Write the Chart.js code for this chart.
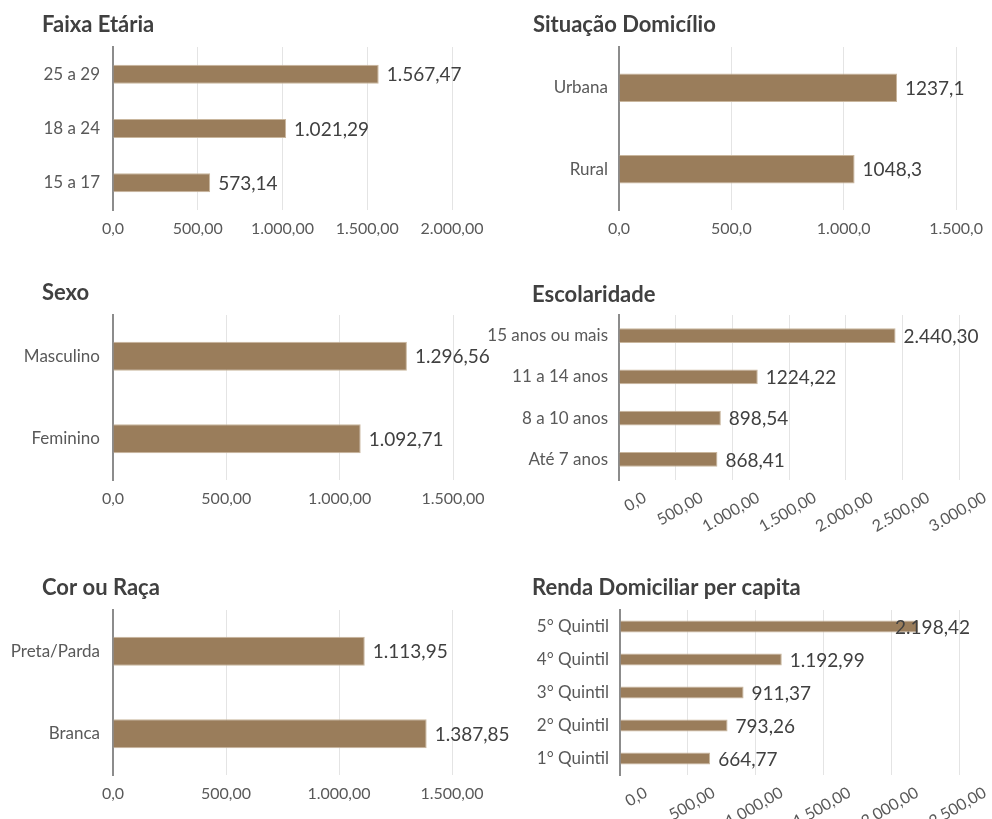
<!DOCTYPE html>
<html lang="pt-BR">
<head>
<meta charset="utf-8">
<title>Rendimento médio por grupo</title>
<script src="https://cdn.jsdelivr.net/npm/chart.js@4.4.1/dist/chart.umd.min.js"></script>
<style>
  html, body { margin: 0; padding: 0; background: #ffffff; }
  #wrap { position: relative; width: 992px; height: 819px; overflow: hidden; }
  #wrap canvas { position: absolute; }
</style>
</head>
<body>
<div id="wrap">
  <canvas id="faixa" width="530" height="260" style="left:0;top:0"></canvas>
  <canvas id="situacao" width="512" height="260" style="left:480px;top:0"></canvas>
  <canvas id="sexo" width="530" height="290" style="left:0;top:270px"></canvas>
  <canvas id="escolaridade" width="512" height="290" style="left:480px;top:270px"></canvas>
  <canvas id="cor" width="530" height="259" style="left:0;top:560px"></canvas>
  <canvas id="renda" width="512" height="259" style="left:480px;top:560px"></canvas>
</div>
<script>
// Faixa Etária
const faixaLabels = ['25 a 29', '18 a 24', '15 a 17'];
const faixaValues = [1567.47, 1021.29, 573.14];
const faixaText = ['1.567,47', '1.021,29', '573,14'];
const faixaTicks = ['0,0', '500,00', '1.000,00', '1.500,00', '2.000,00'];

// Situação Domicílio
const situacaoLabels = ['Urbana', 'Rural'];
const situacaoValues = [1237.1, 1048.3];
const situacaoText = ['1237,1', '1048,3'];
const situacaoTicks = ['0,0', '500,0', '1.000,0', '1.500,0'];

// Sexo
const sexoLabels = ['Masculino', 'Feminino'];
const sexoValues = [1296.56, 1092.71];
const sexoText = ['1.296,56', '1.092,71'];
const sexoTicks = ['0,0', '500,00', '1.000,00', '1.500,00'];

// Escolaridade
const escolaridadeLabels = ['15 anos ou mais', '11 a 14 anos', '8 a 10 anos', 'Até 7 anos'];
const escolaridadeValues = [2440.30, 1224.22, 898.54, 868.41];
const escolaridadeText = ['2.440,30', '1224,22', '898,54', '868,41'];
const escolaridadeTicks = ['0,0', '500,00', '1.000,00', '1.500,00', '2.000,00', '2.500,00', '3.000,00'];

// Cor ou Raça
const corLabels = ['Preta/Parda', 'Branca'];
const corValues = [1113.95, 1387.85];
const corText = ['1.113,95', '1.387,85'];
const corTicks = ['0,0', '500,00', '1.000,00', '1.500,00'];

// Renda Domiciliar per capita
const rendaLabels = ['5° Quintil', '4° Quintil', '3° Quintil', '2° Quintil', '1° Quintil'];
const rendaValues = [2198.42, 1192.99, 911.37, 793.26, 664.77];
const rendaText = ['2.198,42', '1.192,99', '911,37', '793,26', '664,77'];
const rendaTicks = ['0,0', '500,00', '1.000,00', '1.500,00', '2.000,00', '2.500,00'];

const FONT = 'Lato';
const BAR = '#9a7d5b';

// title in the corner plus the value written after each bar
const panelPlugin = {
  id: 'panel',
  afterDatasetsDraw(chart, args, opts) {
    const ctx = chart.ctx;
    ctx.save();
    ctx.textBaseline = 'middle';
    ctx.textAlign = 'left';
    ctx.fillStyle = '#404040';
    ctx.font = 'bold 22px ' + FONT;
    ctx.fillText(opts.title, opts.titleX, opts.titleY);
    ctx.font = '19px ' + FONT;
    chart.getDatasetMeta(0).data.forEach((bar, i) => {
      const txt = opts.valueText[i];
      const w = ctx.measureText(txt).width;
      let x = bar.x + 8;
      if (opts.maxRight && x + w > opts.maxRight) x = opts.maxRight - w;
      ctx.fillText(txt, x, bar.y + 1);
    });
    ctx.restore();
  }
};

function makeChart(id, o) {
  return new Chart(document.getElementById(id), {
    type: 'bar',
    data: {
      labels: o.labels,
      datasets: [{
        data: o.values,
        backgroundColor: BAR,
        borderColor: '#c9b69d',
        borderWidth: 1,
        barPercentage: o.bar || 0.35,
        categoryPercentage: 1
      }]
    },
    options: {
      indexAxis: 'y',
      responsive: false,
      animation: false,
      layout: { padding: { top: o.top, right: o.right, left: 0, bottom: 0 } },
      plugins: {
        legend: { display: false },
        tooltip: { enabled: false },
        panel: {
          title: o.title, titleX: o.titleX, titleY: o.titleY,
          valueText: o.text, maxRight: o.maxRight
        }
      },
      scales: {
        x: {
          min: 0,
          max: o.max,
          ticks: {
            stepSize: 500,
            autoSkip: false,
            color: '#595959',
            font: { family: FONT, size: 16 },
            padding: o.rot ? 8 : 9,
            minRotation: o.rot || 0,
            maxRotation: o.rot || 0,
            labelOffset: o.rot ? 26 : 0,
            callback: (v, i) => o.ticks[i]
          },
          grid: { color: '#e4e4e4', drawTicks: false },
          border: { display: false },
          afterFit(s) { s.height = o.xh; }
        },
        y: {
          ticks: {
            color: '#595959',
            font: { family: FONT, size: 17 },
            padding: o.yPad
          },
          grid: { display: false, drawTicks: false },
          border: { color: '#8c8c8c', width: 2 },
          afterFit(s) { s.width = o.left; }
        }
      }
    },
    plugins: [panelPlugin]
  });
}

makeChart('faixa', {
  labels: faixaLabels, values: faixaValues, text: faixaText, ticks: faixaTicks,
  title: 'Faixa Etária', titleX: 42, titleY: 25,
  max: 2000, left: 113, right: 78, top: 47, xh: 50, yPad: 13
});

makeChart('situacao', {
  labels: situacaoLabels, values: situacaoValues, text: situacaoText, ticks: situacaoTicks,
  title: 'Situação Domicílio', titleX: 53, titleY: 25,
  max: 1500, left: 139, right: 33, top: 47, xh: 50, yPad: 11
});

makeChart('sexo', {
  labels: sexoLabels, values: sexoValues, text: sexoText, ticks: sexoTicks,
  title: 'Sexo', titleX: 42, titleY: 23,
  max: 1500, left: 113, right: 77, top: 45, xh: 80, yPad: 13
});

makeChart('escolaridade', {
  labels: escolaridadeLabels, values: escolaridadeValues, text: escolaridadeText, ticks: escolaridadeTicks,
  title: 'Escolaridade', titleX: 52, titleY: 25,
  max: 3000, left: 139, right: 33, top: 45, xh: 80, yPad: 11, rot: 30, bar: 0.36
});

makeChart('cor', {
  labels: corLabels, values: corValues, text: corText, ticks: corTicks,
  title: 'Cor ou Raça', titleX: 42, titleY: 28,
  max: 1500, left: 113, right: 78, top: 50, xh: 44, yPad: 13
});

makeChart('renda', {
  labels: rendaLabels, values: rendaValues, text: rendaText, ticks: rendaTicks,
  title: 'Renda Domiciliar per capita', titleX: 52, titleY: 28,
  max: 2500, left: 140, right: 33, top: 50, xh: 44, yPad: 11, rot: 30, bar: 0.36,
  maxRight: 490
});
</script>
</body>
</html>
